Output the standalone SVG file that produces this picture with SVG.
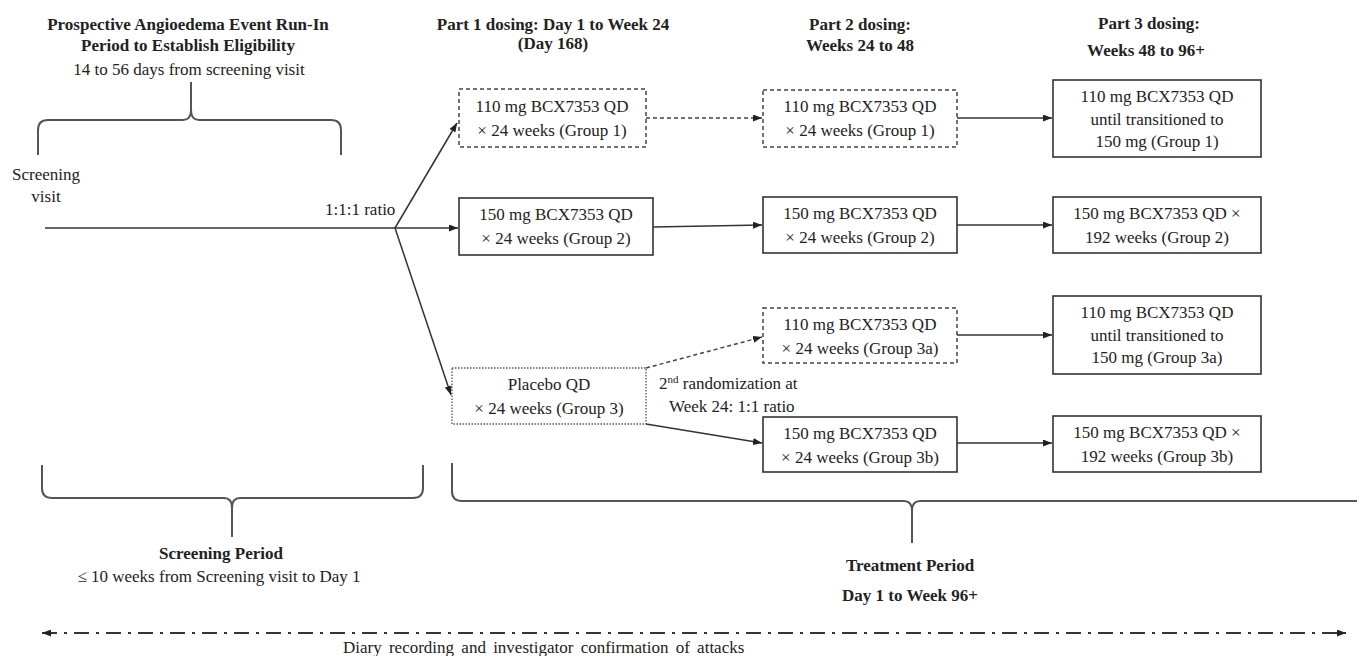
<svg xmlns="http://www.w3.org/2000/svg" width="1357" height="656" viewBox="0 0 1357 656">
<defs>
<marker id="ah" markerUnits="userSpaceOnUse" markerWidth="9" markerHeight="7" refX="9" refY="3.5" orient="auto-start-reverse"><path d="M0,0 L9,3.5 L0,7 z" fill="#222"/></marker>
<style>
text{font-family:"Liberation Serif","Times New Roman",serif;font-size:17px;fill:#222}
.b{font-weight:bold}
.m{text-anchor:middle}
.box{fill:#fff;stroke:#333;stroke-width:1.6}
.dash{fill:#fff;stroke:#444;stroke-width:1.5;stroke-dasharray:4 3}
.dot{fill:#fff;stroke:#555;stroke-width:1.3;stroke-dasharray:1.5 1.5}
.ln{fill:none;stroke:#333;stroke-width:1.5}
.dl{fill:none;stroke:#444;stroke-width:1.5;stroke-dasharray:4 3}
.br{fill:none;stroke:#555;stroke-width:2}
</style>
</defs>
<rect width="1357" height="656" fill="#fff"/>

<g id="headers">
<text class="b m" x="188" y="30">Prospective Angioedema Event Run-In</text>
<text class="b m" x="188" y="51">Period to Establish Eligibility</text>
<text class="m" x="189" y="75">14 to 56 days from screening visit</text>
<text class="b m" x="553" y="30">Part 1 dosing: Day 1 to Week 24</text>
<text class="b m" x="553" y="49">(Day 168)</text>
<text class="b m" x="860" y="30">Part 2 dosing:</text>
<text class="b m" x="860" y="51">Weeks 24 to 48</text>
<text class="b m" x="1149" y="29">Part 3 dosing:</text>
<text class="b m" x="1146" y="56">Weeks 48 to 96+</text>
</g>

<g id="labels">
<text class="m" x="46" y="180">Screening</text>
<text class="m" x="46" y="202">visit</text>
<text x="325" y="215">1:1:1 ratio</text>
<text x="659" y="389">2<tspan font-size="11" dy="-6">nd</tspan><tspan dy="6"> randomization at</tspan></text>
<text x="669" y="412">Week 24: 1:1 ratio</text>
</g>

<g id="brackets">
<path class="br" d="M38,155 L38,130 Q38,120 48,120 L183,120 Q191,120 191,110 L191,82 M191,110 Q191,120 199,120 L331,120 Q341,120 341,130 L341,155"/>
<path class="br" d="M42,465 L42,488 Q42,498 52,498 L224,498 Q232,498 232,508 L232,537 M232,508 Q232,498 240,498 L413,498 Q423,498 423,488 L423,465"/>
<path class="br" d="M452,463 L452,491 Q452,501 462,501 L904,501 Q912,501 912,511 L912,543 M912,511 Q912,501 920,501 L1360,501"/>
<text class="b m" x="221" y="559">Screening Period</text>
<text class="m" x="219" y="582">≤ 10 weeks from Screening visit to Day 1</text>
<text class="b m" x="910" y="571">Treatment Period</text>
<text class="b m" x="910" y="601">Day 1 to Week 96+</text>
</g>

<g id="connectors">
<path class="ln" d="M45,228 L395,228"/>
<path class="ln" d="M395,228 L457,123" marker-end="url(#ah)"/>
<path class="ln" d="M395,228 L458,228" marker-end="url(#ah)"/>
<path class="ln" d="M395,228 L451,395" marker-end="url(#ah)"/>
<path class="dl" d="M646,118 L762,118" marker-end="url(#ah)"/>
<path class="ln" d="M653,227 L762,225" marker-end="url(#ah)"/>
<path class="dl" d="M646,368 L762,337" marker-end="url(#ah)"/>
<path class="ln" d="M646,424 L762,443" marker-end="url(#ah)"/>
<path class="ln" d="M957,118 L1052,118" marker-end="url(#ah)"/>
<path class="ln" d="M957,225 L1052,225" marker-end="url(#ah)"/>
<path class="ln" d="M957,335 L1052,335" marker-end="url(#ah)"/>
<path class="ln" d="M957,443 L1052,443" marker-end="url(#ah)"/>
<path d="M42,633 L1346,633" fill="none" stroke="#333" stroke-width="2" stroke-dasharray="15 7 3 7" marker-start="url(#ah)" marker-end="url(#ah)"/>
<text x="343" y="653" word-spacing="3">Diary recording and investigator confirmation of attacks</text>
</g>

<g id="g1p1">
<rect class="dash" x="459" y="89" width="187" height="58"/>
<text class="m" x="552" y="112">110 mg BCX7353 QD</text>
<text class="m" x="552" y="136">× 24 weeks (Group 1)</text>
</g>
<g id="g2p1">
<rect class="box" x="459" y="198" width="194" height="57"/>
<text class="m" x="556" y="220">150 mg BCX7353 QD</text>
<text class="m" x="556" y="244">× 24 weeks (Group 2)</text>
</g>
<g id="g3p1">
<rect class="dot" x="452" y="368" width="194" height="56"/>
<text class="m" x="549" y="390">Placebo QD</text>
<text class="m" x="549" y="414">× 24 weeks (Group 3)</text>
</g>

<g id="g1p2">
<rect class="dash" x="763" y="90" width="194" height="57"/>
<text class="m" x="860" y="112">110 mg BCX7353 QD</text>
<text class="m" x="860" y="136">× 24 weeks (Group 1)</text>
</g>
<g id="g2p2">
<rect class="box" x="763" y="197" width="194" height="56"/>
<text class="m" x="860" y="219">150 mg BCX7353 QD</text>
<text class="m" x="860" y="243">× 24 weeks (Group 2)</text>
</g>
<g id="g3ap2">
<rect class="dash" x="763" y="308" width="194" height="55"/>
<text class="m" x="860" y="330">110 mg BCX7353 QD</text>
<text class="m" x="860" y="354">× 24 weeks (Group 3a)</text>
</g>
<g id="g3bp2">
<rect class="box" x="763" y="417" width="194" height="55"/>
<text class="m" x="860" y="439">150 mg BCX7353 QD</text>
<text class="m" x="860" y="463">× 24 weeks (Group 3b)</text>
</g>

<g id="g1p3">
<rect class="box" x="1053" y="80" width="208" height="77"/>
<text class="m" x="1157" y="102">110 mg BCX7353 QD</text>
<text class="m" x="1157" y="125">until transitioned to</text>
<text class="m" x="1157" y="147">150 mg (Group 1)</text>
</g>
<g id="g2p3">
<rect class="box" x="1053" y="197" width="208" height="56"/>
<text class="m" x="1157" y="219">150 mg BCX7353 QD ×</text>
<text class="m" x="1157" y="243">192 weeks (Group 2)</text>
</g>
<g id="g3ap3">
<rect class="box" x="1053" y="296" width="208" height="78"/>
<text class="m" x="1157" y="318">110 mg BCX7353 QD</text>
<text class="m" x="1157" y="341">until transitioned to</text>
<text class="m" x="1157" y="363">150 mg (Group 3a)</text>
</g>
<g id="g3bp3">
<rect class="box" x="1053" y="416" width="208" height="56"/>
<text class="m" x="1157" y="438">150 mg BCX7353 QD ×</text>
<text class="m" x="1157" y="462">192 weeks (Group 3b)</text>
</g>
</svg>
